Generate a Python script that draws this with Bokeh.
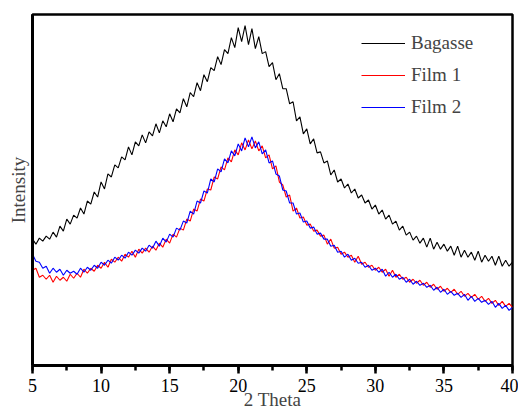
from bokeh.plotting import figure
from bokeh.models import Range1d, SingleIntervalTicker, FixedTicker, Legend, LegendItem
from bokeh.embed import file_html
from bokeh.resources import INLINE

# 2-theta sampling grid (degrees), step 0.25 from 5 to 40
two_theta = [5 + 0.25 * i for i in range(141)]

bagasse = [
    126, 121, 127, 124, 129, 126, 133, 128, 139, 134,
    146, 141, 150, 147, 157, 151, 164, 161, 173, 168,
    183, 176, 191, 188, 200, 197, 208, 205, 218, 210,
    223, 219, 230, 222, 233, 229, 241, 232, 244, 238,
    251, 243, 256, 252, 266, 258, 272, 268, 282, 274,
    290, 283, 297, 294, 308, 300, 315, 311, 327, 317,
    337, 323, 339, 320, 336, 316, 328, 311, 313, 298,
    302, 285, 291, 276, 276, 261, 263, 244, 248, 231,
    236, 221, 226, 212, 213, 202, 204, 190, 195, 183,
    186, 177, 181, 172, 176, 167, 170, 162, 165, 156,
    160, 151, 155, 146, 150, 141, 144, 135, 139, 130,
    133, 125, 129, 122, 127, 118, 127, 116, 123, 116,
    121, 114, 119, 110, 119, 108, 115, 108, 113, 105,
    114, 103, 110, 104, 109, 100, 109, 99, 105, 99,
    103,
]

film1 = [
    95, 97, 88, 90, 86, 90, 83, 89, 85, 88,
    84, 91, 87, 92, 88, 96, 92, 97, 94, 100,
    97, 103, 98, 106, 103, 108, 104, 111, 108, 114,
    108, 116, 112, 117, 113, 119, 115, 122, 118, 126,
    122, 131, 128, 137, 135, 146, 144, 156, 154, 166,
    164, 176, 175, 188, 186, 198, 195, 207, 203, 215,
    210, 222, 215, 225, 216, 224, 214, 219, 207, 210,
    196, 199, 183, 180, 168, 170, 154, 157, 147, 148,
    140, 141, 134, 135, 129, 130, 121, 126, 117, 118,
    111, 113, 108, 110, 103, 109, 101, 103, 98, 100,
    95, 98, 93, 96, 89, 95, 88, 91, 86, 88,
    83, 86, 82, 85, 80, 83, 78, 81, 76, 79,
    74, 77, 73, 76, 71, 74, 69, 72, 68, 71,
    66, 69, 64, 67, 62, 65, 60, 64, 59, 62,
    58,
]

film2 = [
    111, 104, 103, 97, 99, 92, 97, 93, 96, 90,
    95, 92, 94, 91, 97, 93, 98, 95, 100, 97,
    103, 100, 105, 102, 108, 105, 110, 107, 113, 110,
    115, 112, 117, 114, 120, 117, 124, 119, 127, 123,
    131, 128, 137, 135, 144, 142, 154, 151, 164, 162,
    174, 172, 186, 183, 196, 193, 206, 202, 214, 209,
    221, 214, 227, 218, 228, 217, 223, 211, 215, 202,
    204, 191, 189, 175, 174, 162, 162, 151, 152, 143,
    144, 137, 138, 131, 132, 126, 126, 119, 120, 113,
    114, 108, 111, 105, 107, 102, 103, 98, 100, 95,
    97, 93, 96, 89, 93, 88, 91, 86, 88, 83,
    86, 81, 84, 80, 82, 78, 80, 75, 78, 73,
    76, 71, 74, 70, 72, 68, 71, 65, 69, 64,
    67, 63, 65, 61, 64, 58, 62, 57, 60, 55,
    58,
]

x_ticks_interval = 5
series_names = ["Bagasse", "Film 1", "Film 2"]
series_colors = ["#000000", "#ff0000", "#0000ff"]

FONT = "Liberation Serif"

p = figure(width=518, height=413, output_backend="svg", toolbar_location=None,
           x_range=Range1d(5, 40), y_range=Range1d(0, 350),
           min_border_left=32, min_border_right=6, min_border_top=14,
           min_border_bottom=48)

r_bag = p.line(two_theta, bagasse, line_color=series_colors[0], line_width=1.1)
r_f1 = p.line(two_theta, film1, line_color=series_colors[1], line_width=1.1)
r_f2 = p.line(two_theta, film2, line_color=series_colors[2], line_width=1.1)

p.xgrid.visible = False
p.ygrid.visible = False
p.outline_line_color = "black"
p.outline_line_width = 2.5
p.background_fill_color = "white"
p.border_fill_color = "white"

xa = p.xaxis[0]
xa.ticker = SingleIntervalTicker(interval=x_ticks_interval, num_minor_ticks=2)
xa.axis_line_width = 3
xa.major_tick_line_width = 2.5
xa.minor_tick_line_width = 2.5
xa.major_tick_in = 0
xa.major_tick_out = 8
xa.minor_tick_in = 0
xa.minor_tick_out = 5
xa.major_label_text_font = FONT
xa.major_label_text_font_size = "18px"
xa.major_label_text_color = "black"
xa.major_label_standoff = 5
xa.axis_label = "2 Theta"
xa.axis_label_text_font = FONT
xa.axis_label_text_font_size = "19px"
xa.axis_label_text_font_style = "normal"
xa.axis_label_standoff = -6

ya = p.yaxis[0]
ya.ticker = FixedTicker(ticks=[])
ya.axis_line_width = 3
ya.major_tick_line_color = None
ya.minor_tick_line_color = None
ya.axis_label = "Intensity"
ya.axis_label_text_font = FONT
ya.axis_label_text_font_size = "19px"
ya.axis_label_text_font_style = "normal"
ya.axis_label_standoff = 4

legend = Legend(items=[LegendItem(label=series_names[0], renderers=[r_bag]),
                       LegendItem(label=series_names[1], renderers=[r_f1]),
                       LegendItem(label=series_names[2], renderers=[r_f2])],
                location=(329, 247))
legend.border_line_color = None
legend.background_fill_alpha = 0
legend.glyph_width = 44
legend.glyph_height = 20
legend.label_height = 20
legend.spacing = 10
legend.padding = 0
legend.margin = 0
legend.label_standoff = 6
legend.label_text_font = FONT
legend.label_text_font_size = "19px"
p.add_layout(legend)

open("out.html", "w").write(file_html(p, INLINE))
